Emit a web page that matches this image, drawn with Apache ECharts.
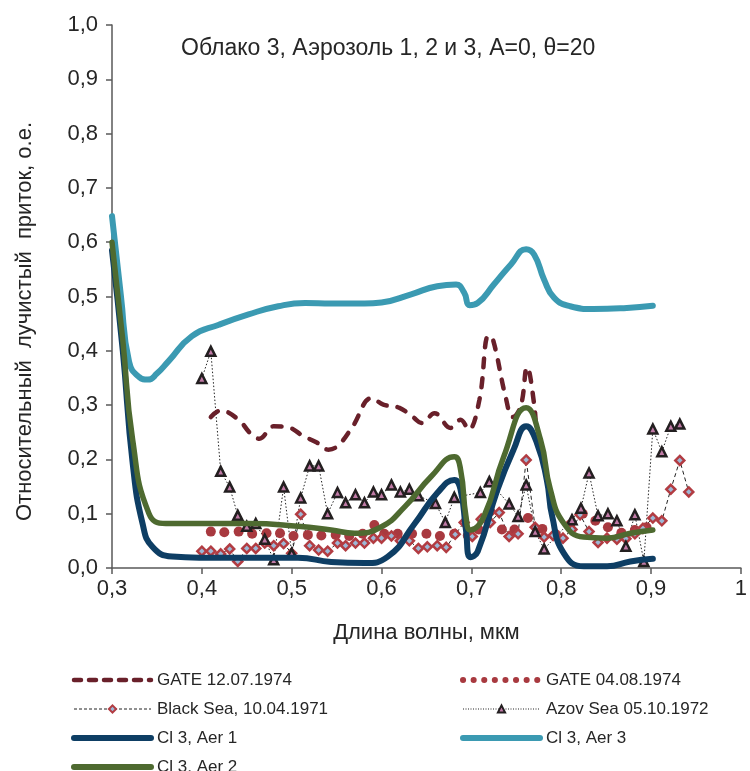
<!DOCTYPE html>
<html><head><meta charset="utf-8">
<script src="https://cdn.jsdelivr.net/npm/echarts@6/dist/echarts.min.js"></script>
<style>html,body{margin:0;padding:0;background:#fff}#c{width:750px;height:771px}</style>
</head><body><div id="c"></div>
<script>
const titleText = 'Облако 3, Аэрозоль 1, 2 и 3, A=0, θ=20';
const xName = 'Длина волны, мкм';
const yName = 'Относительный  лучистый  приток, о.е.';
const seriesNames = ['GATE 12.07.1974','GATE 04.08.1974','Black Sea, 10.04.1971','Azov Sea 05.10.1972','Cl 3, Aer 1','Cl 3, Aer 3','Cl 3, Aer 2'];

const gate1207 = [[0.410,0.278],[0.421,0.290],[0.441,0.273],[0.454,0.248],[0.464,0.238],[0.480,0.261],[0.496,0.259],[0.513,0.243],[0.528,0.231],[0.541,0.218],[0.552,0.226],[0.568,0.261],[0.589,0.313],[0.602,0.301],[0.620,0.295],[0.635,0.278],[0.645,0.267],[0.659,0.285],[0.677,0.258],[0.688,0.273],[0.697,0.255],[0.709,0.310],[0.719,0.428],[0.724,0.421],[0.738,0.316],[0.746,0.278],[0.755,0.298],[0.762,0.370],[0.770,0.300],[0.772,0.250]];

const gate0408 = [[0.410,0.067],[0.425,0.066],[0.441,0.067],[0.456,0.063],[0.472,0.064],[0.487,0.064],[0.502,0.059],[0.518,0.061],[0.533,0.060],[0.549,0.061],[0.564,0.059],[0.579,0.063],[0.592,0.079],[0.603,0.063],[0.618,0.063],[0.634,0.063],[0.650,0.063],[0.665,0.059],[0.681,0.063],[0.696,0.060],[0.708,0.071],[0.721,0.104],[0.734,0.071],[0.748,0.071],[0.763,0.092],[0.779,0.072],[0.794,0.062],[0.810,0.080],[0.824,0.100],[0.838,0.087],[0.852,0.075],[0.867,0.065],[0.882,0.070],[0.895,0.075]];

const blackSea = [[0.400,0.031],[0.410,0.031],[0.421,0.026],[0.431,0.035],[0.440,0.012],[0.450,0.036],[0.460,0.036],[0.470,0.046],[0.480,0.041],[0.491,0.045],[0.500,0.027],[0.510,0.099],[0.520,0.041],[0.530,0.033],[0.540,0.031],[0.551,0.046],[0.560,0.041],[0.571,0.046],[0.581,0.046],[0.591,0.055],[0.600,0.055],[0.611,0.059],[0.621,0.050],[0.631,0.050],[0.641,0.036],[0.651,0.039],[0.662,0.041],[0.672,0.038],[0.682,0.062],[0.692,0.084],[0.701,0.058],[0.711,0.090],[0.721,0.084],[0.731,0.102],[0.742,0.058],[0.752,0.063],[0.761,0.199],[0.771,0.075],[0.781,0.057],[0.791,0.060],[0.802,0.055],[0.812,0.071],[0.821,0.098],[0.831,0.067],[0.841,0.047],[0.851,0.055],[0.862,0.053],[0.872,0.054],[0.882,0.063],[0.891,0.073],[0.902,0.092],[0.912,0.087],[0.922,0.145],[0.932,0.198],[0.942,0.140]];

const azovSea = [[0.400,0.349],[0.410,0.399],[0.421,0.178],[0.431,0.149],[0.440,0.097],[0.450,0.077],[0.460,0.082],[0.470,0.053],[0.480,0.015],[0.491,0.149],[0.500,0.027],[0.510,0.129],[0.520,0.188],[0.530,0.188],[0.540,0.100],[0.551,0.139],[0.560,0.120],[0.571,0.135],[0.581,0.120],[0.591,0.140],[0.600,0.135],[0.611,0.153],[0.621,0.140],[0.631,0.145],[0.641,0.133],[0.660,0.119],[0.671,0.084],[0.681,0.130],[0.710,0.139],[0.720,0.159],[0.742,0.118],[0.752,0.095],[0.761,0.153],[0.771,0.067],[0.781,0.035],[0.812,0.089],[0.822,0.110],[0.831,0.175],[0.841,0.096],[0.852,0.100],[0.862,0.087],[0.872,0.040],[0.882,0.098],[0.892,0.012],[0.902,0.256],[0.912,0.214],[0.922,0.261],[0.932,0.265]];

const aer1 = [[0.300,0.585],[0.312,0.400],[0.323,0.193],[0.334,0.082],[0.345,0.039],[0.367,0.021],[0.397,0.019],[0.450,0.019],[0.507,0.019],[0.544,0.011],[0.581,0.009],[0.607,0.021],[0.637,0.082],[0.662,0.138],[0.681,0.162],[0.688,0.144],[0.694,0.070],[0.699,0.020],[0.707,0.030],[0.729,0.144],[0.747,0.218],[0.761,0.261],[0.773,0.230],[0.784,0.162],[0.790,0.095],[0.803,0.027],[0.825,0.003],[0.851,0.003],[0.877,0.012],[0.902,0.017]];

const aer3 = [[0.300,0.648],[0.310,0.500],[0.319,0.380],[0.330,0.352],[0.340,0.347],[0.350,0.358],[0.363,0.381],[0.389,0.427],[0.419,0.448],[0.452,0.467],[0.485,0.482],[0.515,0.488],[0.544,0.487],[0.581,0.487],[0.600,0.489],[0.633,0.504],[0.662,0.519],[0.683,0.522],[0.692,0.507],[0.698,0.484],[0.707,0.488],[0.725,0.522],[0.744,0.559],[0.761,0.587],[0.770,0.577],[0.781,0.531],[0.792,0.498],[0.810,0.482],[0.836,0.477],[0.873,0.479],[0.902,0.483]];

const aer2 = [[0.300,0.600],[0.312,0.420],[0.323,0.236],[0.341,0.101],[0.360,0.082],[0.397,0.082],[0.452,0.082],[0.507,0.077],[0.544,0.070],[0.570,0.064],[0.600,0.076],[0.626,0.113],[0.655,0.168],[0.681,0.205],[0.688,0.181],[0.694,0.095],[0.699,0.070],[0.714,0.095],[0.736,0.205],[0.761,0.295],[0.777,0.236],[0.788,0.144],[0.803,0.082],[0.825,0.057],[0.851,0.055],[0.877,0.064],[0.902,0.070]];

const FONT = '"Liberation Sans", Arial, sans-serif';
const TXT = '#262626';
const C = {g1:'#69202A', g2:'#A8393F', a1:'#0E3E64', a3:'#3B9AB2', a2:'#4E6A30'};
const chart = echarts.init(document.getElementById('c'), null, {renderer:'canvas'});
const fmtX = v => { const r = Math.round(v*10)/10; return (r === 1 ? '1' : r.toFixed(1)).replace('.', ','); };
const fmtY = v => (Math.round(v*10)/10).toFixed(1).replace('.', ',');

const legendCommon = {orient:'vertical', top:671.5, height:160, padding:0, itemWidth:77, itemHeight:9, itemGap:12,
  textStyle:{fontFamily:FONT, fontSize:17, color:TXT, padding:[0,0,0,1]}};
const noSym = {opacity:0};

chart.setOption({
  animation:false,
  backgroundColor:'#fff',
  title:{text:titleText, left:181, top:37, padding:0, textStyle:{fontFamily:FONT, fontSize:23, fontWeight:'normal', color:TXT}},
  grid:{left:112, right:9, top:25, bottom:203, containLabel:false},
  legend:[
    Object.assign({left:71, data:[
      {name:seriesNames[0], itemStyle:noSym, lineStyle:{width:4.5, type:[7,8], cap:'round', color:C.g1}},
      {name:seriesNames[2], lineStyle:{width:1, type:[3,2], color:'#222'}},
      {name:seriesNames[4], itemStyle:noSym, lineStyle:{width:6, cap:'round', color:C.a1}},
      {name:seriesNames[6], itemStyle:noSym, lineStyle:{width:6, cap:'round', color:C.a2}}]}, legendCommon),
    Object.assign({left:460, data:[
      {name:seriesNames[1], itemStyle:noSym, lineStyle:{opacity:1, width:6, type:[0.1,10.5], cap:'round', color:C.g2}},
      {name:seriesNames[3], lineStyle:{width:1, type:[1,1.5], color:'#222'}},
      {name:seriesNames[5], itemStyle:noSym, lineStyle:{width:6, cap:'round', color:C.a3}}]}, legendCommon)
  ],
  xAxis:{type:'value', min:0.3, max:1, interval:0.1, name:xName, nameLocation:'middle', nameGap:54,
    nameTextStyle:{fontFamily:FONT, fontSize:22, color:TXT},
    axisLine:{show:true, onZero:false, lineStyle:{color:'#595959', width:1.5}},
    axisTick:{show:true, inside:false, length:6, lineStyle:{color:'#595959', width:1.5}},
    axisLabel:{formatter:fmtX, fontFamily:FONT, fontSize:22, color:TXT, margin:10},
    splitLine:{show:false}},
  yAxis:{type:'value', min:0, max:1, interval:0.1, name:yName, nameLocation:'middle', nameGap:76,
    nameTextStyle:{fontFamily:FONT, fontSize:22, color:TXT, padding:[0,50,0,0]},
    axisLine:{show:true, lineStyle:{color:'#595959', width:1.5}},
    axisTick:{show:true, inside:false, length:6, lineStyle:{color:'#595959', width:1.5}},
    axisLabel:{formatter:fmtY, fontFamily:FONT, fontSize:22, color:TXT, margin:14},
    splitLine:{show:false}},
  series:[
    {name:seriesNames[0], type:'line', data:gate1207, smooth:0.4, showSymbol:false, symbol:'none',
      lineStyle:{color:C.g1, width:4.5, type:[9,11], cap:'round'}, itemStyle:{color:C.g1}, z:3},
    {name:seriesNames[1], type:'line', data:gate0408, symbol:'circle', symbolSize:10, showSymbol:true,
      lineStyle:{opacity:0, width:6, type:[0.1,10.5], cap:'round', color:C.g2}, itemStyle:{color:C.g2}, z:2},
    {name:seriesNames[2], type:'line', data:blackSea, symbol:'diamond', symbolSize:9, showSymbol:true,
      lineStyle:{color:'#222', width:1, type:[4,3]}, itemStyle:{color:'#9DB8D6', borderColor:'#B23C42', borderWidth:2.5}, z:2},
    {name:seriesNames[3], type:'line', data:azovSea, symbol:'triangle', symbolSize:9, showSymbol:true,
      lineStyle:{color:'#222', width:1, type:[1.5,2]}, itemStyle:{color:'#C07AA6', borderColor:'#231F20', borderWidth:2.5}, z:2},
    {name:seriesNames[4], type:'line', data:aer1, smooth:0.5, symbol:'none',
      lineStyle:{color:C.a1, width:6, cap:'round'}, itemStyle:{color:C.a1}, z:4},
    {name:seriesNames[5], type:'line', data:aer3, smooth:0.5, symbol:'none',
      lineStyle:{color:C.a3, width:6, cap:'round'}, itemStyle:{color:C.a3}, z:4},
    {name:seriesNames[6], type:'line', data:aer2, smooth:0.5, symbol:'none',
      lineStyle:{color:C.a2, width:5.5, cap:'round'}, itemStyle:{color:C.a2}, z:4}
  ]
});
</script></body></html>
